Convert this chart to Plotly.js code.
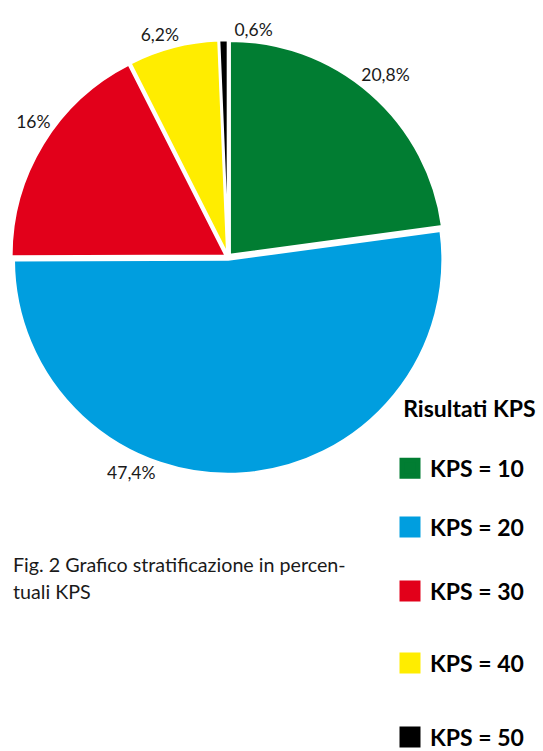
<!DOCTYPE html>
<html>
<head>
<meta charset="utf-8">
<script src="https://cdn.plot.ly/plotly-3.0.1.min.js"></script>
<style>html,body{margin:0;padding:0;background:#fff;}#chart{width:543px;height:751px;}</style>
</head>
<body>
<div id="chart"></div>
<script>
const categories = ["KPS = 10", "KPS = 20", "KPS = 30", "KPS = 40", "KPS = 50"];
const percentValues = [20.8, 47.4, 16, 6.2, 0.6];
const percentLabels = ["20,8%", "47,4%", "16%", "6,2%", "0,6%"];
const sliceColors = ["#017D32", "#009EDF", "#E2001A", "#FFED00", "#000000"];
const legendTitle = "Risultati KPS";
const captionLines = ["Fig. 2 Grafico stratificazione in percen-", "tuali KPS"];

const W = 543, H = 751;
const fx = px => px / W;
const fy = py => (H - py) / H;
const FONT = "Lato, 'Open Sans', sans-serif";

const pieDomain = { x: [fx(11), fx(445)], y: [fy(474), fy(40)] };
const pull = 0.012;
// label placement tweak (degrees) so each label sits where the original puts it
const labelAngleShift = [-5, 22, 6, 3, 1.5];

const pieMain = {
  type: "pie",
  values: percentValues,
  labels: categories,
  textinfo: "none",
  sort: false,
  direction: "clockwise",
  rotation: 0,
  pull: pull,
  marker: { colors: sliceColors, line: { color: "#ffffff", width: 2.5 } },
  domain: pieDomain,
  showlegend: false,
  hoverinfo: "none"
};

// one transparent copy of the pie per label, so labels are not pushed around by each other
const labelPies = percentLabels.map((lab, k) => ({
  type: "pie",
  values: percentValues,
  labels: categories,
  text: percentLabels.map((t, i) => i === k ? t : ""),
  textinfo: "text",
  textposition: percentLabels.map((t, i) => i === k ? "outside" : "none"),
  sort: false,
  direction: "clockwise",
  rotation: labelAngleShift[k],
  pull: pull,
  marker: { colors: percentValues.map(() => "rgba(0,0,0,0)"), line: { width: 0 } },
  outsidetextfont: { family: FONT, size: 17.5, color: "#1a1a1a" },
  domain: pieDomain,
  showlegend: false,
  hoverinfo: "none"
}));

const legendIds = ["legend", "legend2", "legend3", "legend4", "legend5"];
const legendTraces = categories.map((c, i) => ({
  type: "scatter",
  mode: "markers",
  x: [null], y: [null],
  name: c,
  legend: legendIds[i],
  marker: { symbol: "square", size: 16, color: sliceColors[i], line: { color: sliceColors[i], width: 5 } },
  showlegend: true,
  hoverinfo: "none"
}));

const legendFont = { family: FONT, size: 23, weight: 700, color: "#000" };
const itemCentersPx = [465, 527, 591, 663, 737];
const legendX = fx(390);

const layout = {
  width: W, height: H,
  margin: { l: 0, r: 0, t: 0, b: 0, autoexpand: false },
  paper_bgcolor: "#ffffff", plot_bgcolor: "#ffffff",
  xaxis: { visible: false, domain: [0.99, 1] },
  yaxis: { visible: false, domain: [0.99, 1] },
  showlegend: true,
  legend: {
    x: legendX, y: fy(387), xanchor: "left", yanchor: "top",
    bgcolor: "rgba(0,0,0,0)", itemsizing: "trace",
    title: { text: "&nbsp;&nbsp;" + legendTitle + "<br>&nbsp;", font: legendFont },
    font: legendFont
  },
  annotations: captionLines.map((t, i) => ({
    xref: "paper", yref: "paper",
    x: fx(11), y: fy(564 + i * 27),
    xanchor: "left", yanchor: "middle",
    text: t, showarrow: false,
    font: { family: FONT, size: 19.7, color: "#1a1a1a" }
  }))
};
for (let i = 1; i < legendIds.length; i++) {
  layout[legendIds[i]] = {
    x: legendX, y: fy(itemCentersPx[i]), xanchor: "left", yanchor: "middle",
    bgcolor: "rgba(0,0,0,0)", itemsizing: "trace", font: legendFont
  };
}

Plotly.newPlot("chart", [pieMain, ...labelPies, ...legendTraces], layout, { staticPlot: true });
</script>
</body>
</html>
